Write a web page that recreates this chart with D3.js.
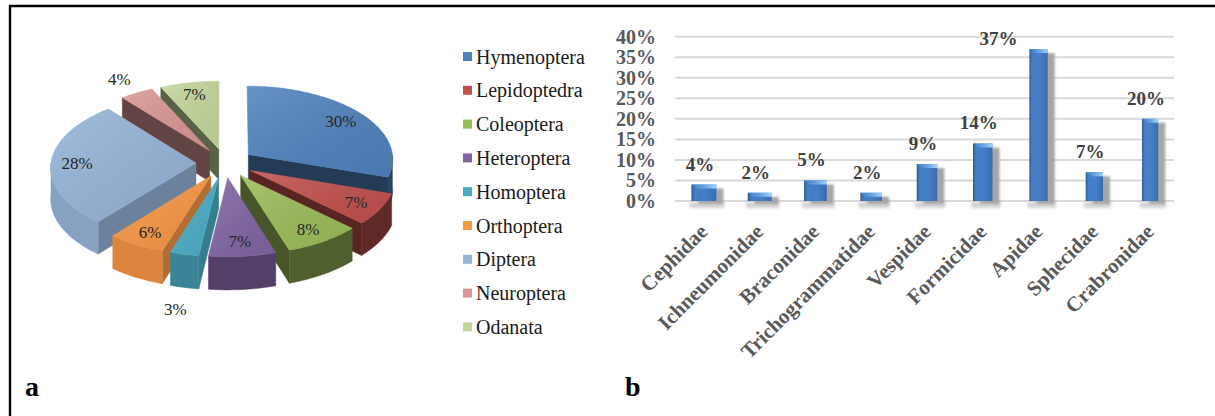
<!DOCTYPE html>
<html>
<head>
<meta charset="utf-8">
<script src="https://cdn.jsdelivr.net/npm/d3@7"></script>
<style>
  html, body { margin: 0; padding: 0; background: #fff; }
  svg { display: block; }
</style>
</head>
<body>
<svg id="chart" width="1215" height="416"></svg>
<script>
// ---- data ----
const orders = ["Hymenoptera", "Lepidoptedra", "Coleoptera", "Heteroptera", "Homoptera",
                "Orthoptera", "Diptera", "Neuroptera", "Odanata"];
const orderShares = [30, 7, 8, 7, 3, 6, 28, 4, 7];
const orderColors = ["#4F81BD", "#C0504D", "#9BBB59", "#8064A2", "#4BACC6",
                     "#F79646", "#95B3D7", "#D99694", "#C3D69B"];

const families = ["Cephidae", "Ichneumonidae", "Braconidae", "Trichogrammatidae", "Vespidae",
                  "Formicidae", "Apidae", "Sphecidae", "Crabronidae"];
const familyShares = [4, 2, 5, 2, 9, 14, 37, 7, 20];
const percentTicks = [0, 5, 10, 15, 20, 25, 30, 35, 40];

const SERIF = "\"Liberation Serif\", \"Times New Roman\", Times, serif";

const svg = d3.select("#chart").attr("font-family", SERIF);
const defs = svg.append("defs");

// ---- frame and panel letters ----
svg.append("path")
  .attr("d", "M10,416 V6 H1215")
  .attr("fill", "none").attr("stroke", "#000").attr("stroke-width", 2.4);

svg.selectAll("text.panel")
  .data([{ t: "a", x: 25 }, { t: "b", x: 625 }])
  .join("text").attr("class", "panel")
  .attr("x", d => d.x).attr("y", 396)
  .attr("font-family", SERIF)
  .attr("font-size", 28).attr("font-weight", "bold").attr("fill", "#000")
  .text(d => d.t);

// ---- (a) exploded 3-D pie ----
const P = { cx: 225, cy: 163, rx: 145, ry: 73, depth: 31, k: 0.055, explode: 0.2 };

// project a point of the tilted disk (u right, v away from viewer, h drop in px)
function proj(u, v, h) {
  const s = 1 / (1 + P.k * v);
  return [P.cx + P.rx * u * s, P.cy - P.ry * v * s + h * s];
}

const arcs = d3.pie().sort(null).value(d => d)(orderShares)
  .map((d, i) => {
    const m = (d.startAngle + d.endAngle) / 2;
    return { ...d, i, m, ou: P.explode * Math.sin(m), ov: P.explode * Math.cos(m) };
  });

const line = d3.line();
function rim(d, t, h) { return proj(d.ou + Math.sin(t), d.ov + Math.cos(t), h); }
function hub(d, h) { return proj(d.ou, d.ov, h); }
function arcPts(d, t0, t1, h) {
  const n = Math.max(2, Math.ceil(Math.abs(t1 - t0) / (Math.PI / 180)));
  return d3.range(n + 1).map(j => rim(d, t0 + (t1 - t0) * j / n, h));
}

// soft sheen across the top faces
const sheen = defs.append("linearGradient").attr("id", "sheen")
  .attr("x1", "0%").attr("y1", "0%").attr("x2", "100%").attr("y2", "100%");
sheen.append("stop").attr("offset", "0%").attr("stop-color", "#fff").attr("stop-opacity", 0.14);
sheen.append("stop").attr("offset", "100%").attr("stop-color", "#000").attr("stop-opacity", 0.06);

const pieG = svg.append("g");
const drawOrder = arcs.slice().sort((a, b) => Math.cos(b.m) - Math.cos(a.m));

drawOrder.forEach(d => {
  const base = d3.color(orderColors[d.i]);
  const g = pieG.append("g");
  const D = P.depth;

  // radial cut faces that turn toward the viewer; [angle, visible, normal x]
  [[d.startAngle, Math.sin(d.startAngle) < -1e-6, -Math.cos(d.startAngle)],
   [d.endAngle, Math.sin(d.endAngle) > 1e-6, Math.cos(d.endAngle)]]
    .forEach(([t, show, nx]) => {
      if (!show) return;
      const col = base.darker(nx > 0 ? 0.9 : 2.2).formatHex();
      const pts = [hub(d, 0), rim(d, t, 0), rim(d, t, D), hub(d, D)];
      g.append("path").attr("d", line(pts) + "Z")
        .attr("fill", col).attr("stroke", col).attr("stroke-width", 0.5);
    });

  // curved outer wall on the front half
  const t1 = Math.max(d.startAngle, Math.PI / 2), t2 = Math.min(d.endAngle, 3 * Math.PI / 2);
  if (t2 > t1) {
    const shade = Math.max(0.3, Math.min(1.9, 1.1 + 1.6 * Math.sin(d.m)));
    const col = base.darker(shade).formatHex();
    const pts = arcPts(d, t1, t2, 0).concat(arcPts(d, t2, t1, D));
    g.append("path").attr("d", line(pts) + "Z")
      .attr("fill", col).attr("stroke", col).attr("stroke-width", 0.5);
  }

  // top face
  const top = line([hub(d, 0)].concat(arcPts(d, d.startAngle, d.endAngle, 0))) + "Z";
  g.append("path").attr("d", top)
    .attr("fill", base.formatHex()).attr("stroke", base.formatHex()).attr("stroke-width", 0.5);
  g.append("path").attr("d", top).attr("fill", "url(#sheen)");
});

// percentage labels
arcs.forEach(d => {
  const outside = d.value < 5;
  const r = outside ? 1.25 : 0.82;
  const h = outside && Math.cos(d.m) < 0 ? P.depth : 0;
  const [lx, ly] = proj(d.ou + r * Math.sin(d.m), d.ov + r * Math.cos(d.m), h);
  pieG.append("text")
    .attr("x", lx).attr("y", ly).attr("dy", "0.35em")
    .attr("text-anchor", "middle")
    .attr("font-family", SERIF)
    .attr("font-size", 17).attr("fill", "#262626")
    .text(d.value + "%");
});

// legend
const legend = svg.append("g").selectAll("g")
  .data(orders).join("g")
  .attr("transform", (d, i) => `translate(463, ${56.5 + i * 33.8})`);
legend.append("rect")
  .attr("x", 0).attr("y", -4.5).attr("width", 9).attr("height", 9)
  .attr("fill", (d, i) => orderColors[i]);
legend.append("text")
  .attr("x", 13).attr("y", 0).attr("dy", "0.35em")
  .attr("font-family", SERIF)
  .attr("font-size", 20).attr("fill", "#1a1a1a")
  .text(d => d);

// ---- (b) column chart of Hymenoptera families ----
const x = d3.scaleBand().domain(families).range([676, 1178]);
const y = d3.scaleLinear().domain([0, 40]).range([201, 36.7]);

const barG = svg.append("g");

// gridlines
barG.selectAll("line.grid")
  .data(percentTicks).join("line").attr("class", "grid")
  .attr("x1", 675).attr("x2", 1174)
  .attr("y1", d => y(d)).attr("y2", d => y(d))
  .attr("stroke", "#D9D9D9").attr("stroke-width", 2);

// y axis labels
const yAxis = barG.append("g").attr("transform", "translate(656,0)")
  .call(d3.axisLeft(y).tickValues(percentTicks).tickFormat(d => d + "%").tickSize(0).tickPadding(0));
yAxis.attr("font-family", SERIF);
yAxis.select(".domain").remove();
yAxis.selectAll("text")
  .attr("font-family", SERIF)
  .attr("font-size", 20).attr("font-weight", "bold").attr("fill", "#595959");

// x axis labels
const xAxis = barG.append("g").attr("transform", "translate(0,201)")
  .call(d3.axisBottom(x).tickSize(0));
xAxis.attr("font-family", SERIF);
xAxis.select(".domain").remove();
xAxis.selectAll("text")
  .attr("x", 0).attr("y", 0).attr("dy", 0)
  .attr("transform", "translate(5,32) rotate(-45)")
  .attr("text-anchor", "end")
  .attr("font-family", SERIF)
  .attr("font-size", 21).attr("font-weight", "bold").attr("fill", "#595959");

// bar styling
const blur = defs.append("filter").attr("id", "soft").attr("x", "-50%").attr("y", "-50%")
  .attr("width", "200%").attr("height", "200%");
blur.append("feGaussianBlur").attr("stdDeviation", 1.2);
const blur2 = defs.append("filter").attr("id", "softer").attr("x", "-50%").attr("y", "-100%")
  .attr("width", "200%").attr("height", "300%");
blur2.append("feGaussianBlur").attr("stdDeviation", 1.8);

const barGrad = defs.append("linearGradient").attr("id", "barFill")
  .attr("x1", "0%").attr("x2", "100%").attr("y1", "0%").attr("y2", "0%");
[["0%", "#1F4C86"], ["14%", "#3672BE"], ["55%", "#3D7CCB"], ["100%", "#3166AC"]]
  .forEach(([o, c]) => barGrad.append("stop").attr("offset", o).attr("stop-color", c));
const capGrad = defs.append("linearGradient").attr("id", "capFill")
  .attr("x1", "0%").attr("x2", "100%").attr("y1", "0%").attr("y2", "0%");
[["0%", "#3E7DCA"], ["60%", "#6FA9E6"], ["100%", "#A8D4F7"]]
  .forEach(([o, c]) => capGrad.append("stop").attr("offset", o).attr("stop-color", c));

familyShares.forEach((v, i) => {
  const c = x(families[i]) + x.bandwidth() / 2;
  const w = 25 - 1.1 * i;           // columns narrow toward the back of the 3-D view
  const left = c - w / 2, top = y(v), bottom = y(0);
  const g = barG.append("g");

  // floor shadow and cast shadow
  g.append("rect")
    .attr("x", left - 2).attr("y", bottom + 1).attr("width", w + 10).attr("height", 6)
    .attr("fill", "#BFBFBF").attr("opacity", 0.7).attr("filter", "url(#softer)");
  g.append("rect")
    .attr("x", left + 7).attr("y", top + 4).attr("width", w).attr("height", bottom - top - 1)
    .attr("fill", "#A6A6A6").attr("filter", "url(#soft)");

  // column body
  g.append("rect")
    .attr("x", left).attr("y", top).attr("width", w).attr("height", bottom - top)
    .attr("fill", "url(#barFill)").attr("opacity", 0.92);
  // bevelled cap
  const cap = Math.min(4, (bottom - top) / 2);
  g.append("path")
    .attr("d", `M${left},${top} H${left + w} V${top + cap} H${left + cap + 2} Z`)
    .attr("fill", "url(#capFill)");

  // value label
  const ly = y(v) - 14;
  const clamped = ly < 45;
  g.append("text")
    .attr("x", clamped ? c - 0.72 * x.bandwidth() : c - 4)
    .attr("y", clamped ? 45 : ly)
    .attr("text-anchor", "middle")
    .attr("font-family", SERIF)
    .attr("font-size", 19).attr("font-weight", "bold").attr("fill", "#404040")
    .text(v + "%");
});
</script>
</body>
</html>
